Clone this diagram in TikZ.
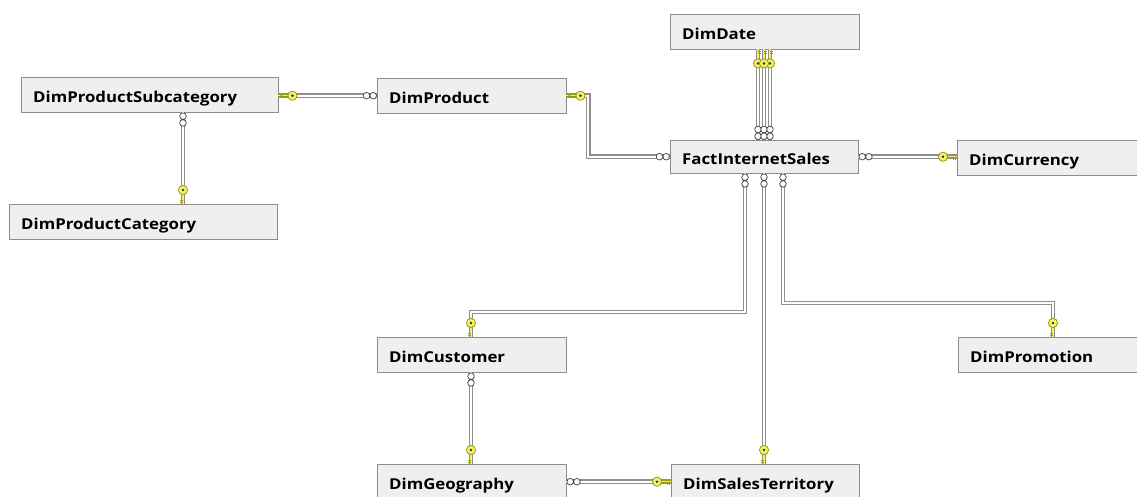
\documentclass[tikz,border=0pt]{standalone}
\usepackage{fontspec}
\setsansfont{Open Sans}[FakeStretch=1.12]
\definecolor{boxfill}{HTML}{EFEFEF}
\definecolor{boxline}{HTML}{8C8C8C}
\definecolor{relline}{HTML}{8E8E8E}
\definecolor{keyfill}{HTML}{F4F266}
\definecolor{keyline}{HTML}{9C9A10}
\tikzset{
  tbl/.style={draw=boxline, fill=boxfill, anchor=north west, minimum height=35,
    inner xsep=12, inner ysep=0, text width=#1, text height=15pt, text depth=0pt, align=left,
    font=\sffamily\bfseries\fontsize{15}{17}\selectfont},
  rel/.style={draw=relline, line width=1.3pt, double=white, double distance=2pt},
  pics/fkey/.style={code={
    \draw[keyline, line width=2.6pt] (-11,0) -- (0,0);
    \draw[keyfill, line width=1.3pt] (-11,0) -- (0,0);
    \draw[keyline, line width=0.8pt] (-4,0) -- (-4,2.8) (-1.5,0) -- (-1.5,2.8);
    \draw[draw=keyline, fill=keyfill, line width=0.8pt] (-14,0) circle (4.6);
    \fill[black!80] (-14,0) circle (1.4);
  }},
  pics/many/.style={code={
    \draw[black!75, fill=white, line width=0.7pt] (-3.8,0) circle (3.3) (-10.5,0) circle (3.3);
  }}
}
\begin{document}
\begin{tikzpicture}[x=1pt, y=-1pt]
  \useasboundingbox (0,0) rectangle (1137,496);
  \clip (0,0) rectangle (1137,496);
  \node[tbl=165] (date) at (670,14) {DimDate};
  \node[tbl=233] (subcat) at (21,77) {DimProductSubcategory};
  \node[tbl=165] (prod) at (377,78) {DimProduct};
  \node[tbl=244] (cat) at (9,204) {DimProductCategory};
  \node[tbl=164, minimum height=33] (fact) at (670,140) {FactInternetSales};
  \node[tbl=166] (curr) at (957,140) {DimCurrency};
  \node[tbl=165] (cust) at (377,337) {DimCustomer};
  \node[tbl=164] (promo) at (958,337) {DimPromotion};
  \node[tbl=165] (geo) at (377,464) {DimGeography};
  \node[tbl=164] (terr) at (671,464) {DimSalesTerritory};

  \draw[rel] (prod.west) -- (prod.west -| subcat.east);
  \pic[rotate=180] at (prod.west -| subcat.east) {fkey};
  \pic at (prod.west) {many};

  \draw[rel] (183,0 |- subcat.south) -- (183,0 |- cat.north);
  \pic[rotate=90] at (183,0 |- subcat.south) {many};
  \pic[rotate=-90] at (183,0 |- cat.north) {fkey};

  \draw[rel] (prod.east) -- ++(22,0) |- (fact.west);
  \pic[rotate=180] at (prod.east) {fkey};
  \pic at (fact.west) {many};

  \foreach \x in {758,764,770} {
    \draw[rel] (\x,0 |- date.south) -- (\x,0 |- fact.north);
    \pic[rotate=-90] at (\x,0 |- fact.north) {many};
  }
  \foreach \x in {758,770,764}
    \pic[rotate=90] at (\x,0 |- date.south) {fkey};

  \draw[rel] (fact.east) -- (fact.east -| curr.west);
  \pic[rotate=180] at (fact.east) {many};
  \pic at (fact.east -| curr.west) {fkey};

  \draw[rel] (745,0 |- fact.south) |- (471,312) -- (471,0 |- cust.north);
  \pic[rotate=90] at (745,0 |- fact.south) {many};
  \pic[rotate=-90] at (471,0 |- cust.north) {fkey};

  \draw[rel] (764,0 |- fact.south) -- (764,0 |- terr.north);
  \pic[rotate=90] at (764,0 |- fact.south) {many};
  \pic[rotate=-90] at (764,0 |- terr.north) {fkey};

  \draw[rel] (783,0 |- fact.south) |- (1053,303) -- (1053,0 |- promo.north);
  \pic[rotate=90] at (783,0 |- fact.south) {many};
  \pic[rotate=-90] at (1053,0 |- promo.north) {fkey};

  \draw[rel] (471,0 |- cust.south) -- (471,0 |- geo.north);
  \pic[rotate=90] at (471,0 |- cust.south) {many};
  \pic[rotate=-90] at (471,0 |- geo.north) {fkey};

  \draw[rel] (geo.east) -- (geo.east -| terr.west);
  \pic[rotate=180] at (geo.east) {many};
  \pic at (geo.east -| terr.west) {fkey};
\end{tikzpicture}
\end{document}
